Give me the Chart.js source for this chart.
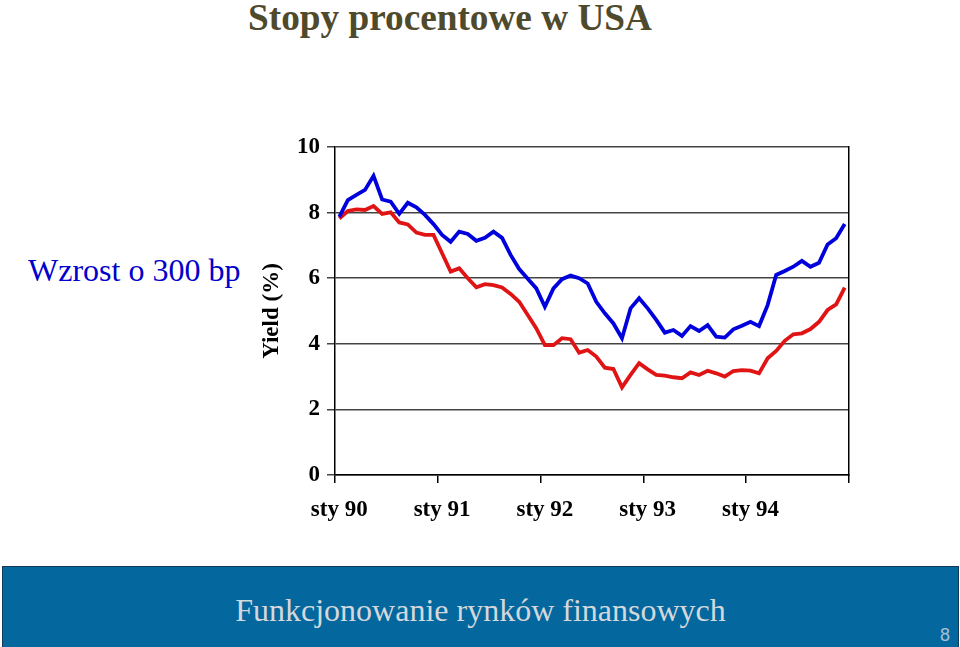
<!DOCTYPE html>
<html>
<head>
<meta charset="utf-8">
<script src="https://cdn.jsdelivr.net/npm/chart.js@4"></script>
<style>
  body { margin: 0; width: 960px; height: 647px; background: #fff; position: relative; overflow: hidden; }
  #chart-box { position: absolute; left: 0; top: 0; width: 960px; height: 560px; }
  #title { position: absolute; top: -5px; left: 0; width: 900px; text-align: center;
           font: bold 38px "Liberation Serif", serif; color: #4f4a2c; transform: scaleX(0.98); }
  #note { position: absolute; left: 28px; top: 252px; font: 32px "Liberation Serif", serif; color: #0000cc; }
  #footer { position: absolute; left: 2px; top: 566px; width: 955px; height: 81px; background: #04679d;
            border-top: 1px solid #123a5a; border-left: 1px solid #123a5a; border-right: 1px solid #123a5a; }
  #footer-text { position: absolute; left: 0; top: 25px; width: 955px; text-align: center;
                 font: 32px "Liberation Serif", serif; color: #d4d8dc; }
  #page-no { position: absolute; right: 8px; bottom: 2px; font: 18px "Liberation Sans", sans-serif; color: #a9c2d8; }
</style>
</head>
<body>
<div id="title">Stopy procentowe w USA</div>
<div id="note">Wzrost o 300 bp</div>
<div id="chart-box"><canvas id="chart"></canvas></div>
<div id="footer">
  <div id="footer-text">Funkcjonowanie rynków finansowych</div>
  <div id="page-no">8</div>
</div>
<script>
const monthNames = ['sty', 'lut', 'mar', 'kwi', 'maj', 'cze', 'lip', 'sie', 'wrz', 'paź', 'lis', 'gru'];
const years = ['90', '91', '92', '93', '94'];
const yTicks = [0, 2, 4, 6, 8, 10];

// monthly yields, sty 90 - gru 94
const blueSeries = [
  7.87, 8.38, 8.54, 8.69, 9.12, 8.40, 8.33, 7.96, 8.30, 8.16, 7.93, 7.65,
  7.32, 7.11, 7.42, 7.35, 7.14, 7.23, 7.42, 7.23, 6.71, 6.28, 5.98, 5.69,
  5.13, 5.69, 5.97, 6.08, 6.00, 5.84, 5.28, 4.93, 4.62, 4.17, 5.08, 5.39,
  5.08, 4.73, 4.34, 4.42, 4.24, 4.54, 4.39, 4.57, 4.22, 4.19, 4.44, 4.55,
  4.67, 4.54, 5.18, 6.10, 6.22, 6.35, 6.53, 6.35, 6.47, 7.03, 7.22, 7.65
];
const redSeries = [
  7.82, 8.05, 8.10, 8.08, 8.20, 7.96, 8.01, 7.70, 7.64, 7.39, 7.32, 7.32,
  6.76, 6.20, 6.30, 6.00, 5.72, 5.82, 5.79, 5.72, 5.52, 5.28, 4.88, 4.47,
  3.96, 3.96, 4.17, 4.14, 3.73, 3.81, 3.61, 3.27, 3.23, 2.67, 3.05, 3.41,
  3.22, 3.05, 3.03, 2.98, 2.95, 3.13, 3.05, 3.18, 3.10, 3.00, 3.17, 3.20,
  3.18, 3.10, 3.56, 3.78, 4.09, 4.29, 4.32, 4.45, 4.67, 5.03, 5.20, 5.71
];

const labels = [];
years.forEach(y => monthNames.forEach(m => labels.push(m + ' ' + y)));

const serif = '"Liberation Serif", "Times New Roman", serif';

new Chart(document.getElementById('chart'), {
  type: 'line',
  data: {
    labels: labels,
    datasets: [
      { data: blueSeries, borderColor: '#0000dd', borderWidth: 3.8, pointRadius: 0, tension: 0 },
      { data: redSeries, borderColor: '#e01414', borderWidth: 3.8, pointRadius: 0, tension: 0 }
    ]
  },
  options: {
    responsive: true,
    maintainAspectRatio: false,
    animation: false,
    layout: { padding: { left: 255, top: 147, right: 111, bottom: 36 } },
    plugins: { legend: { display: false }, tooltip: { enabled: false } },
    scales: {
      x: {
        offset: true,
        afterFit: s => { s.height = 49; },
        grid: {
          offset: true,
          drawOnChartArea: false,
          tickLength: 8,
          lineWidth: 1.5,
          color: c => (c.index === undefined || c.index % 12 === 0) ? '#000' : 'rgba(0,0,0,0)'
        },
        border: { color: '#000', width: 1.5 },
        ticks: {
          autoSkip: false,
          maxRotation: 0,
          minRotation: 0,
          padding: 13,
          color: '#000',
          font: { family: serif, size: 23, weight: 'bold' },
          callback: (v, i) => i % 12 === 0 ? labels[i] : ''
        }
      },
      y: {
        min: 0,
        max: 10,
        afterFit: s => { s.width = 80; },
        afterBuildTicks: s => { s.ticks = yTicks.map(v => ({ value: v })); },
        grid: { color: '#444', lineWidth: 1.5, tickLength: 8 },
        border: { color: '#000', width: 1.5 },
        ticks: {
          padding: 7,
          color: '#000',
          font: { family: serif, size: 23, weight: 'bold' }
        },
        title: {
          display: true,
          text: 'Yield (%)',
          color: '#000',
          padding: { top: 3, bottom: 0 },
          font: { family: serif, size: 23, weight: 'bold' }
        }
      },
      y2: {
        position: 'right',
        min: 0,
        max: 10,
        afterFit: s => { s.width = 0; },
        grid: { display: false },
        ticks: { display: false },
        border: { display: true, color: '#000', width: 1.5 }
      }
    }
  }
});
</script>
</body>
</html>
